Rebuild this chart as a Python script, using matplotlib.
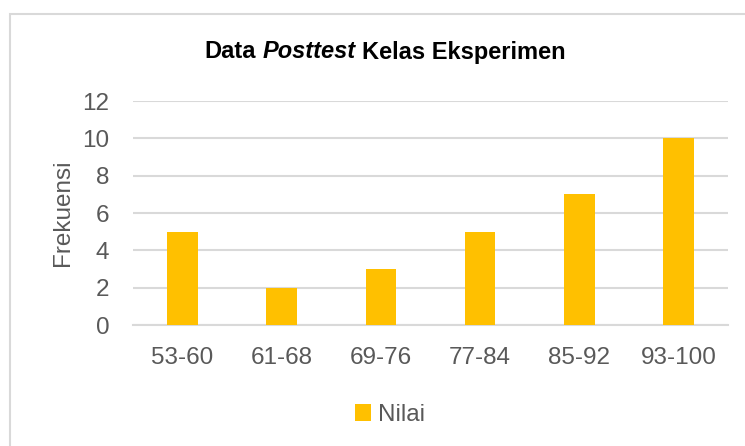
import matplotlib
matplotlib.use("Agg")
import matplotlib.pyplot as plt
from matplotlib.patches import Rectangle
from matplotlib.offsetbox import TextArea, HPacker, AnnotationBbox

# data
categories = ["53-60", "61-68", "69-76", "77-84", "85-92", "93-100"]
frekuensi = [5, 2, 3, 5, 7, 10]
series_name = "Nilai"

plt.rcParams["font.family"] = ["Liberation Sans Narrow", "Liberation Sans", "DejaVu Sans"]

W, H = 745, 446
fig = plt.figure(figsize=(W / 100, H / 100), dpi=100)

# chart border (runs past right/bottom edge like the screenshot)
fig.patches.append(Rectangle((10 / W, -0.1), 1.2, 1 - 14 / H + 0.1,
                             transform=fig.transFigure, fill=False,
                             edgecolor="#D9D9D9", linewidth=1.5))

ax = fig.add_axes([133 / W, 1 - 325 / H, (728 - 133) / W, (325 - 101) / H])
x = range(len(categories))
ax.bar(x, frekuensi, width=0.31, color="#FFC000", label=series_name, zorder=3)

ax.set_xlim(-0.5, len(categories) - 0.5)
ax.set_ylim(0, 12)
ax.set_yticks(range(0, 13, 2))
ax.set_xticks(list(x))
ax.set_xticklabels(categories)
ax.tick_params(length=0, labelsize=17.5, labelcolor="#595959", pad=16)
ax.tick_params(axis="y", pad=17)
ax.grid(axis="y", color="#D9D9D9", linewidth=1.5, zorder=0)
for side in ["top", "right", "left"]:
    ax.spines[side].set_visible(False)
ax.spines["bottom"].set_color("#D9D9D9")
ax.spines["bottom"].set_linewidth(1.5)

ax.set_ylabel("Frekuensi", fontsize=17.5, color="#595959", labelpad=6)

# title with italic word
parts = [TextArea("Data", textprops=dict(fontsize=17, fontweight="bold")),
         TextArea("Posttest", textprops=dict(fontsize=17, fontweight="bold", style="italic")),
         TextArea("Kelas Eksperimen", textprops=dict(fontsize=17, fontweight="bold"))]
title_box = HPacker(children=parts, sep=5, pad=0, align="baseline")
ab = AnnotationBbox(title_box, (385 / W, 1 - 52 / H), xycoords="figure fraction",
                    frameon=False, box_alignment=(0.5, 0.5))
fig.add_artist(ab)

ax.legend(loc="center", bbox_to_anchor=(390 / W, 1 - 415 / H),
          bbox_transform=fig.transFigure, frameon=False, fontsize=17.5,
          labelcolor="#595959", handlelength=0.65, handleheight=0.65,
          handletextpad=0.3)

fig.savefig("out.png", dpi=100)
